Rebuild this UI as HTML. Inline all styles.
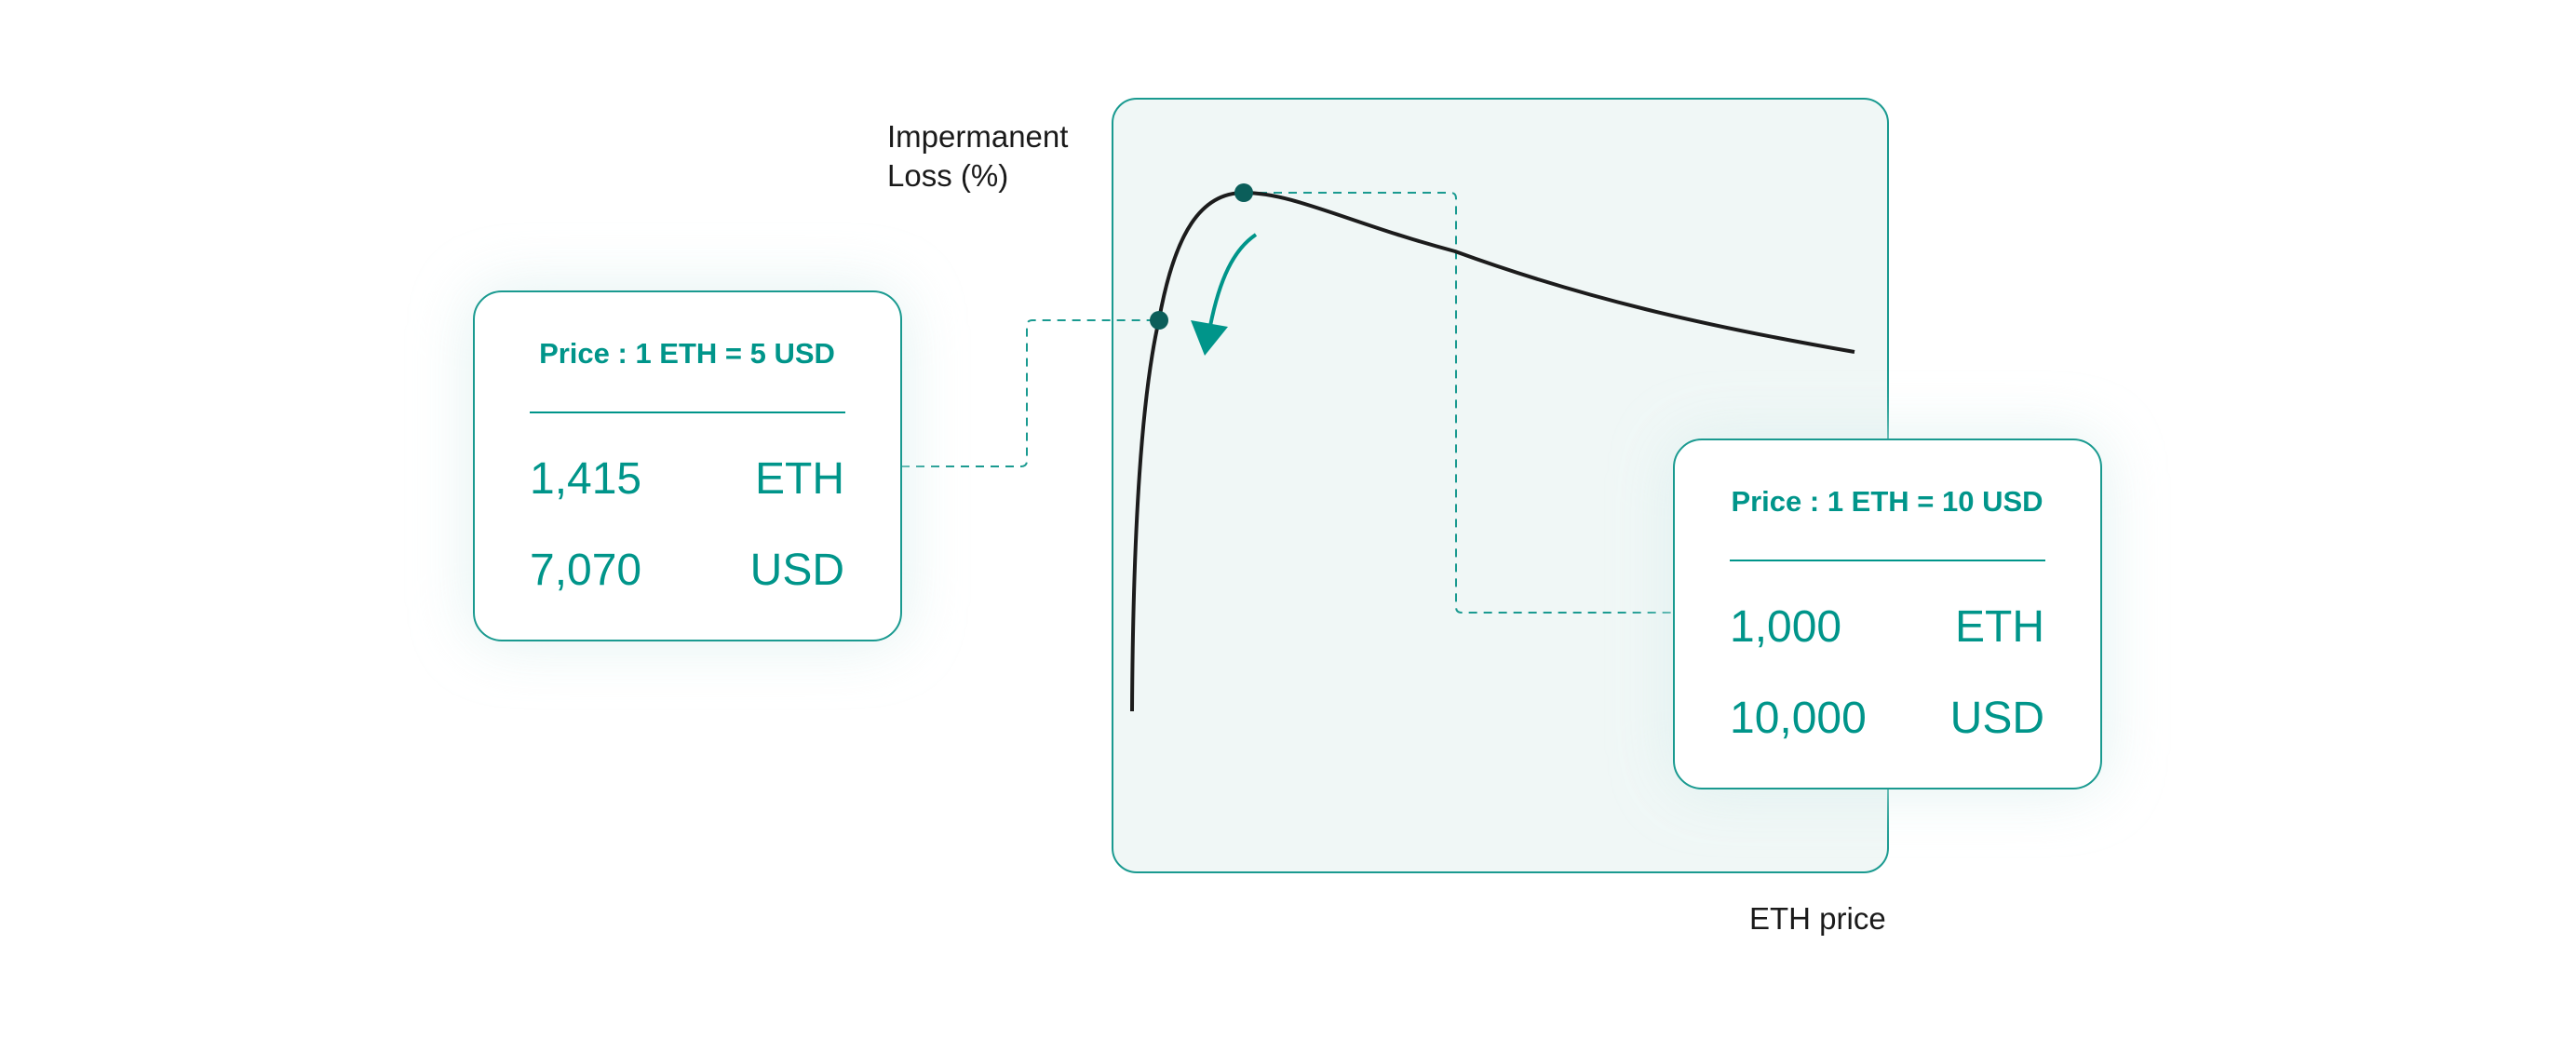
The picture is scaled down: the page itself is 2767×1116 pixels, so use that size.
<!DOCTYPE html>
<html><head><meta charset="utf-8"><style>
html,body{margin:0;padding:0;background:#fff;}
svg{display:block;}
text{font-family:"Liberation Sans",sans-serif;}
</style></head><body>
<svg width="2767" height="1116" viewBox="0 0 2767 1116" xmlns="http://www.w3.org/2000/svg">
<defs>
<filter id="glow" x="-40%" y="-40%" width="180%" height="180%">
<feGaussianBlur stdDeviation="34"/>
</filter>
</defs>
<rect x="1195" y="106" width="833" height="831" rx="26" fill="#f0f7f6" stroke="#1a9a90" stroke-width="2"/>
<text x="953" y="158" font-size="33" fill="#1a1a1a">Impermanent</text>
<text x="953" y="200" font-size="33" fill="#1a1a1a">Loss (%)</text>
<text x="1879" y="998" font-size="33" fill="#1a1a1a">ETH price</text>

<path d="M968 501 H1097 Q1103 501 1103 495 V350 Q1103 344 1109 344 H1244" fill="none" stroke="#1a9a90" stroke-width="2" stroke-dasharray="9 7"/>
<path d="M1336 207 H1558 Q1564 207 1564 213 V652 Q1564 658 1570 658 H1798" fill="none" stroke="#1a9a90" stroke-width="2" stroke-dasharray="9 7"/>

<path d="M1216 764 C1217 580 1225 430 1245 343 C1262 250 1290 207 1336 207 C1390 207 1450 240 1563 270 C1700 320 1830 350 1992 378" fill="none" stroke="#1c1c1c" stroke-width="4"/>
<circle cx="1245" cy="344" r="10" fill="#0b5e5a"/>
<circle cx="1336" cy="207" r="10" fill="#0b5e5a"/>
<path d="M1349 252 C1325 268 1310 300 1300 350" fill="none" stroke="#00958a" stroke-width="4"/>
<polygon points="1279,344 1319,351 1294,382" fill="#00958a"/>

<rect x="509" y="313" width="459" height="375" rx="30" fill="#dcefee" filter="url(#glow)" opacity="0.85"/>
<rect x="509" y="313" width="459" height="375" rx="30" fill="#fff" stroke="#1a9a90" stroke-width="2"/>
<text x="738" y="390" font-size="31" font-weight="bold" fill="#00958a" text-anchor="middle">Price : 1 ETH = 5 USD</text>
<line x1="569" y1="443" x2="908" y2="443" stroke="#00958a" stroke-width="2"/>
<text x="569" y="530" font-size="48" fill="#00958a">1,415</text>
<text x="907" y="530" font-size="48" fill="#00958a" text-anchor="end">ETH</text>
<text x="569" y="628" font-size="48" fill="#00958a">7,070</text>
<text x="907" y="628" font-size="48" fill="#00958a" text-anchor="end">USD</text>

<rect x="1798" y="472" width="459" height="375" rx="30" fill="#dcefee" filter="url(#glow)" opacity="0.85"/>
<rect x="1798" y="472" width="459" height="375" rx="30" fill="#fff" stroke="#1a9a90" stroke-width="2"/>
<text x="2027" y="549" font-size="31" font-weight="bold" fill="#00958a" text-anchor="middle">Price : 1 ETH = 10 USD</text>
<line x1="1858" y1="602" x2="2197" y2="602" stroke="#00958a" stroke-width="2"/>
<text x="1858" y="689" font-size="48" fill="#00958a">1,000</text>
<text x="2196" y="689" font-size="48" fill="#00958a" text-anchor="end">ETH</text>
<text x="1858" y="787" font-size="48" fill="#00958a">10,000</text>
<text x="2196" y="787" font-size="48" fill="#00958a" text-anchor="end">USD</text>
</svg>
</body></html>
